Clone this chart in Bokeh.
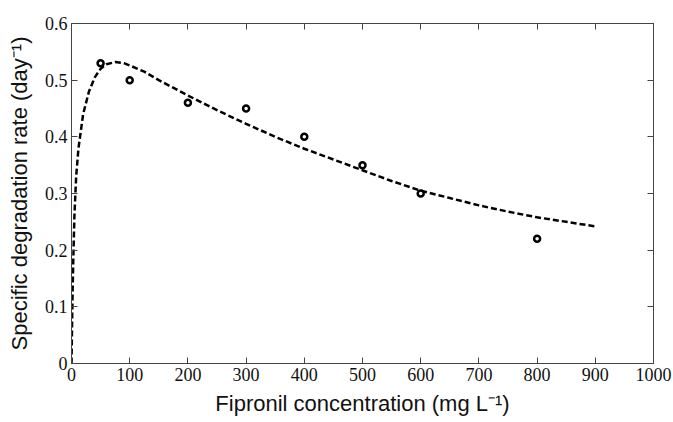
from bokeh.plotting import figure
from bokeh.models import Range1d, LinearAxis, FixedTicker, NumeralTickFormatter, CustomLabelingPolicy
from bokeh.embed import file_html
from bokeh.resources import INLINE

# Measured data points
conc = [50, 100, 200, 300, 400, 500, 600, 800]
rate = [0.53, 0.50, 0.46, 0.45, 0.40, 0.35, 0.30, 0.22]

# Fitted model curve
fit_x = [0, 1, 2, 3, 5, 8, 12, 16, 20, 25, 30, 40, 50, 60, 75, 90, 100, 125, 150,
         200, 250, 300, 350, 400, 450, 500, 550, 600, 650, 700, 750, 800, 850, 900]
fit_y = [0, 0.07, 0.13, 0.18, 0.26, 0.33, 0.38, 0.41, 0.44, 0.46, 0.48, 0.505, 0.52,
         0.528, 0.532, 0.530, 0.526, 0.515, 0.500, 0.473, 0.447, 0.423, 0.400, 0.379,
         0.360, 0.341, 0.322, 0.305, 0.292, 0.279, 0.268, 0.258, 0.250, 0.242]

x_ticks = [0, 100, 200, 300, 400, 500, 600, 700, 800, 900, 1000]
y_ticks = [0, 0.1, 0.2, 0.3, 0.4, 0.5, 0.6]

x_title = "Fipronil concentration (mg L⁻¹)"
y_title = "Specific degradation rate (day⁻¹)"

AX = "#444444"
TICK_FONT = "Liberation Serif"
LABEL_FONT = "Liberation Sans"

p = figure(width=673, height=422, output_backend="svg", toolbar_location=None,
           x_range=Range1d(0, 1000), y_range=Range1d(0, 0.6),
           min_border_left=71, min_border_right=20, min_border_top=23, min_border_bottom=59)
p.xgrid.visible = False
p.ygrid.visible = False
p.outline_line_color = AX
p.background_fill_color = "white"

no_labels = CustomLabelingPolicy(code="""
    for (const i of Array.from(indices)) { indices.unset(i) }
    return indices
""")

def style(ax, ticks, show_labels):
    ax.ticker = FixedTicker(ticks=ticks)
    ax.axis_line_color = AX
    ax.major_tick_line_color = AX
    ax.major_tick_in = 6
    ax.major_tick_out = 0
    ax.minor_tick_line_color = None
    if show_labels:
        ax.major_label_text_font = TICK_FONT
        ax.major_label_text_font_size = "18px"
        ax.major_label_text_color = "#111111"
        ax.major_label_standoff = 4
    else:
        ax.major_label_policy = no_labels
        ax.major_label_standoff = 0

xa = p.xaxis[0]
ya = p.yaxis[0]
style(xa, x_ticks, True)
style(ya, y_ticks, True)
ya.formatter = NumeralTickFormatter(format="0.[0]")
xa.axis_label = x_title
ya.axis_label = y_title
for a in (xa, ya):
    a.axis_label_text_font = LABEL_FONT
    a.axis_label_text_font_size = "22px"
    a.axis_label_text_font_style = "normal"
    a.axis_label_text_color = "#111111"
xa.axis_label_standoff = 7
ya.axis_label_standoff = 10

top = LinearAxis()
right = LinearAxis()
style(top, x_ticks, False)
style(right, y_ticks, False)
p.add_layout(top, "above")
p.add_layout(right, "right")

p.line(fit_x, fit_y, line_color="black", line_width=2.5, line_dash="6 3")
p.scatter(conc, rate, marker="circle", size=6, fill_color="white",
          line_color="black", line_width=2.5)

open("out.html", "w").write(file_html(p, INLINE))
